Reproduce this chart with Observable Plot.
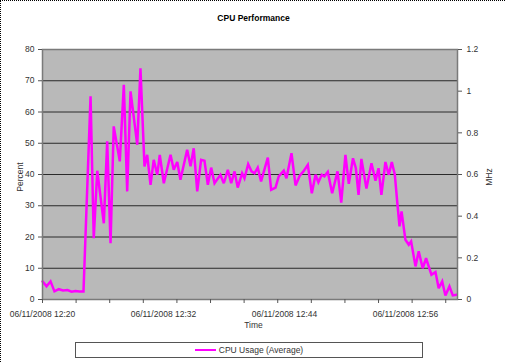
<!DOCTYPE html>
<html>
<head>
<meta charset="utf-8">
<script src="https://cdn.jsdelivr.net/npm/d3@7"></script>
<script src="https://cdn.jsdelivr.net/npm/@observablehq/plot@0.6"></script>
<style>
  html, body { margin: 0; padding: 0; background: #fff; }
  #wrap { position: relative; width: 504px; height: 361px; overflow: hidden;
          border-top: 1px dotted #000; border-left: 1px dotted #000;
          font-family: "Liberation Sans", Arial, sans-serif; color: #333; }
  #chart { position: absolute; left: -1px; top: -1px; }
  .t { position: absolute; font-size: 8.5px; white-space: nowrap; }
  #title { left: 0; width: 505px; top: 12px; text-align: center; font-weight: bold; font-size: 8.5px; color: #000; }
  #timeLbl { left: 0; width: 505px; top: 319px; text-align: center; }
  #pctLbl { left: 19px; top: 176px; transform: translate(-50%,-50%) rotate(-90deg); }
  #mhzLbl { left: 488px; top: 176px; transform: translate(-50%,-50%) rotate(-90deg); }
  #legend { position: absolute; left: 74px; top: 341px; width: 346px; height: 14px;
            border: 1px solid #555; background: #fff; display: flex; align-items: center;
            justify-content: center; font-size: 8.5px; }
  #legend .sw { display: inline-block; width: 21px; height: 0; border-top: 2px solid #ff00ff; margin-right: 3px; }
</style>
</head>
<body>
<div id="wrap">
  <div id="chart"></div>
  <div class="t" id="title">CPU Performance</div>
  <div class="t" id="timeLbl">Time</div>
  <div class="t" id="pctLbl">Percent</div>
  <div class="t" id="mhzLbl">MHz</div>
  <div id="legend"><span class="sw"></span><span>CPU Usage (Average)</span></div>
</div>
<script>
const times = ["12:20:00","12:20:24","12:20:48","12:21:11","12:21:37","12:22:02","12:22:29","12:22:53","12:23:16","12:23:40","12:24:04",
"12:24:46","12:25:05","12:25:26","12:26:05","12:26:25","12:26:45","12:27:04","12:27:40","12:28:04","12:28:24","12:28:44","12:29:24","12:29:43",
"12:30:07","12:30:23","12:30:43","12:31:02","12:31:23","12:31:38","12:32:02","12:32:42","12:33:01","12:33:22","12:33:41","12:34:21","12:34:41",
"12:35:00","12:35:21","12:35:44","12:36:04","12:36:24","12:36:44","12:37:04","12:37:39","12:37:59","12:38:23","12:38:43","12:39:03","12:39:22",
"12:39:48","12:40:02","12:40:24","12:40:44","12:41:02","12:41:21","12:41:41","12:42:21","12:42:41","12:43:07","12:43:26","12:43:56","12:44:12",
"12:44:42","12:45:06","12:45:31","12:45:53","12:46:19","12:46:43","12:47:05","12:47:22","12:47:42","12:47:58","12:48:18","12:48:44","12:49:16",
"12:49:38","12:50:03","12:50:23","12:50:48","12:51:05","12:51:21","12:51:38","12:52:08","12:52:38","12:53:02","12:53:20","12:53:37","12:54:01",
"12:54:21","12:54:39","12:54:57","12:55:11","12:55:25","12:55:37","12:56:00","12:56:20","12:56:34","12:57:00","12:57:19","12:57:43","12:58:03",
"12:58:35","12:58:59","12:59:18","12:59:39","12:59:58","13:00:22","13:00:42","13:01:04"];
const cpuUsage = [5.8,4.2,5.8,2.6,3.3,2.9,3.0,2.5,2.7,2.6,2.6,
65,19.6,41.2,24.4,50.6,18,55.4,44.2,68.7,34.6,66.6,49.5,74,
42.6,46.3,36.7,44.7,39.9,46.3,37.2,46.3,41.5,44,38.3,47.9,42.6,
48.4,34.6,44.7,44.4,36.7,42.2,37.2,39.9,37.2,41.5,37.2,41,35.8,
40.4,38.8,43.3,41,40.4,42.2,37.8,45.4,35.1,35.8,39.4,41.2,38.8,
46.8,36.5,39.6,41,43.1,34,39.9,37.5,39.9,39.4,40.8,34,41,
31,46.3,37,45.2,42,33.5,45,35.5,43.6,38,42,33.5,44,
39.9,44,39.9,31.4,23.4,28.2,19.1,17.5,18.6,10.6,15.4,10,13.2,
7.9,8.8,3.6,5.8,1.3,4.2,1.3,1.5];
const xTickTimes = ["12:20:00","12:23:20","12:26:40","12:30:00","12:33:20","12:36:40","12:40:00","12:43:20","12:46:40","12:50:00","12:53:20","12:56:40","13:00:00"];
const xLabelTimes = ["12:20:00","12:32:00","12:44:00","12:56:00"];
const percentTicks = [0,10,20,30,40,50,60,70,80];
const gridTicks = [10,20,30,40,50,60,70];
const mhzTicks = [0,0.2,0.4,0.6,0.8,1,1.2];
const mhzMax = 1.2, pctMax = 80;

const toDate = t => new Date(`2008-06-11T${t}Z`);
const data = times.map((t, i) => ({time: toDate(t), cpu: cpuUsage[i]}));
const fmt = d3.utcFormat("%m/%d/%Y %H:%M");

const plot = Plot.plot({
  width: 505,
  height: 340,
  marginTop: 49,
  marginBottom: 41,
  marginLeft: 42,
  marginRight: 48,
  style: {fontFamily: "'Liberation Sans', Arial, sans-serif", fontSize: "8.5px", color: "#333", background: "transparent"},
  x: {type: "utc", domain: [toDate("12:20:00"), toDate("13:01:10")]},
  y: {domain: [0, pctMax]},
  marks: [
    Plot.frame({fill: "url(#dots)"}),
    Plot.ruleY(gridTicks, {stroke: "#2a2a2a", strokeWidth: 1}),
    Plot.line(data, {x: "time", y: "cpu", stroke: "#ff00ff", strokeWidth: 2.5, strokeLinejoin: "miter", strokeMiterlimit: 3}),
    Plot.frame({stroke: "#7a7a7a", strokeWidth: 1.5}),
    Plot.axisX({ticks: xTickTimes.map(toDate), tickSize: 4, tickFormat: () => "", stroke: "#555", label: null}),
    Plot.axisX({ticks: xLabelTimes.map(toDate), tickSize: 0, tickPadding: 11, tickFormat: fmt, label: null}),
    Plot.axisY({ticks: percentTicks, tickSize: 4, tickPadding: 4, anchor: "left", stroke: "#555", label: null}),
    Plot.axisY({anchor: "right", ticks: mhzTicks.map(m => m * pctMax / mhzMax), tickSize: 4, tickPadding: 5,
                tickFormat: d => d3.format("~g")(Math.round(d * mhzMax / pctMax * 10) / 10), stroke: "#555", label: null})
  ]
});

d3.select(plot).insert("defs", ":first-child").html(
  `<pattern id="dots" width="2" height="2" patternUnits="userSpaceOnUse">
     <rect width="2" height="2" fill="#c8c8c8"></rect>
     <rect width="1" height="1" fill="#8a8a8a"></rect>
   </pattern>`);

document.getElementById("chart").appendChild(plot);
</script>
</body>
</html>
